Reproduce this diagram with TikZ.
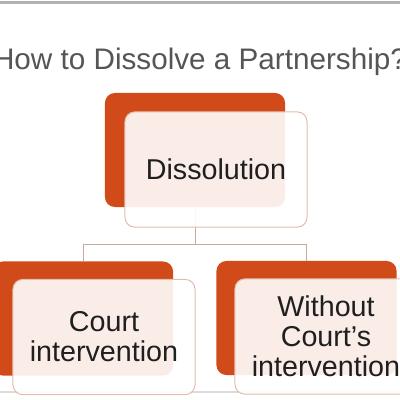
\documentclass[tikz,border=0pt]{standalone}
\usepackage{fontspec}
\setmainfont{Liberation Sans}
\usetikzlibrary{positioning,calc}
\definecolor{rust}{HTML}{D14B1A}
\definecolor{peach}{HTML}{E3BCAB}
\definecolor{twig}{HTML}{C9AA9B}
\definecolor{slate}{HTML}{555555}

\begin{document}
\begin{tikzpicture}[x=0.025cm,y=-0.025cm,
  backbox/.style={draw=none,fill=rust,rounded corners=7pt,minimum width=4.5cm,minimum height=2.85cm,inner sep=0pt},
  frontbox/.style={draw=peach,line width=0.7pt,fill=white,fill opacity=0.9,text opacity=1,rounded corners=7pt,
    minimum width=4.55cm,minimum height=2.88cm,inner sep=0pt,align=center,text=black!88,
    font=\fontsize{20.4}{21.3}\selectfont},
  link/.style={draw=twig,line width=0.7pt}]
  \useasboundingbox (0,0) rectangle (400,400);
  \clip (0,0) rectangle (400,400);
  % frame lines
  \draw[black!30,line width=1.5pt] (0,2.5) -- (400,2.5);
  \draw[black!14,line width=1.2pt] (0,392) -- (400,392);
  \node[anchor=base,text=slate,font=\fontsize{21.1}{24}\selectfont] (title) at (200,70) {How to Dissolve a Partnership?};
  % back boxes
  \node[backbox] (dissB) at (195,150) {};
  \node[backbox] (courtB) at (83,318.5) {};
  \node[backbox] (noCourtB) at (306.5,318) {};
  % connectors
  \draw[link] (dissB.south) -- ++(0,37) coordinate (fork);
  \draw[link] (fork) -| (courtB.north);
  \draw[link] (fork) -| (noCourtB.north);
  % front boxes
  \node[frontbox] (diss) at (216,169.5) {Dissolution};
  \node[frontbox] (court) at (104,337) {Court\\intervention};
  \node[frontbox] (noCourt) at (326,336.5) {Without\\Court’s\\intervention};
\end{tikzpicture}
\end{document}
